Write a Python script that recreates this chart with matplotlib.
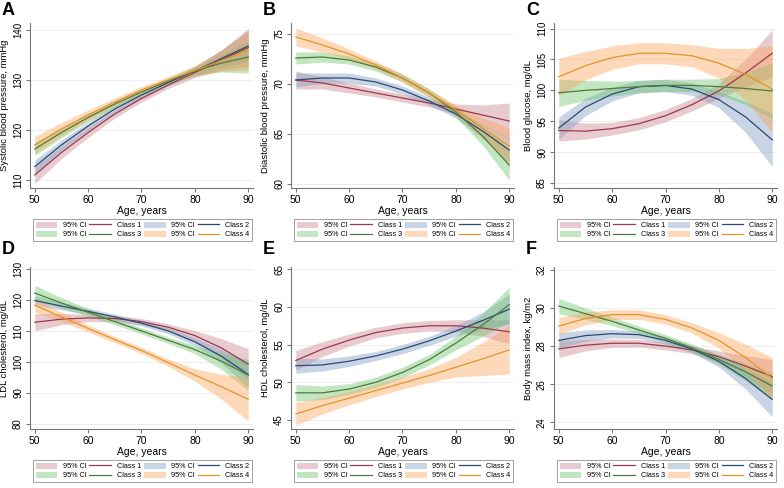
import matplotlib
matplotlib.use("Agg")
import matplotlib.pyplot as plt
import numpy as np
from matplotlib.patches import Patch
from matplotlib.lines import Line2D

ages = [50, 55, 60, 65, 70, 75, 80, 85, 90]

# Panel A: systolic blood pressure
sbp_c1 = [111.0, 115.5, 119.5, 123.2, 126.3, 129.0, 131.5, 134.0, 136.5]
sbp_c2 = [112.7, 117.0, 120.8, 124.2, 127.0, 129.5, 131.8, 134.3, 136.8]
sbp_c3 = [116.2, 119.5, 122.5, 125.2, 127.6, 129.8, 131.8, 133.4, 134.6]
sbp_c4 = [117.0, 120.2, 123.0, 125.6, 128.0, 130.0, 131.9, 133.9, 136.0]
sbp_ci1 = [1.7, 1.2, 1.0, 0.8, 0.7, 0.7, 1.0, 2.0, 3.8]
sbp_ci2 = [1.3, 1.0, 0.8, 0.7, 0.6, 0.6, 0.9, 1.7, 3.0]
sbp_ci3 = [1.3, 1.0, 0.8, 0.7, 0.6, 0.6, 0.9, 1.8, 3.2]
sbp_ci4 = [1.7, 1.3, 1.0, 0.8, 0.7, 0.7, 1.0, 2.1, 4.0]

# Panel B: diastolic blood pressure
dbp_c1 = [70.4, 70.1, 69.6, 69.1, 68.6, 68.1, 67.5, 66.9, 66.3]
dbp_c2 = [70.4, 70.6, 70.6, 70.2, 69.4, 68.3, 67.0, 65.3, 63.4]
dbp_c3 = [72.6, 72.7, 72.4, 71.7, 70.6, 69.1, 67.2, 64.8, 61.9]
dbp_c4 = [74.7, 73.9, 73.0, 71.9, 70.6, 69.1, 67.4, 65.6, 63.8]
dbp_ci1 = [0.9, 0.6, 0.5, 0.4, 0.4, 0.4, 0.5, 1.0, 1.8]
dbp_ci2 = [0.7, 0.5, 0.5, 0.4, 0.4, 0.4, 0.4, 0.7, 1.2]
dbp_ci3 = [0.6, 0.5, 0.4, 0.4, 0.4, 0.4, 0.5, 0.9, 1.5]
dbp_ci4 = [0.9, 0.7, 0.5, 0.4, 0.4, 0.4, 0.5, 1.0, 1.8]

# Panel C: blood glucose
glu_c1 = [93.5, 93.4, 93.8, 94.6, 95.9, 97.7, 99.9, 102.8, 106.0]
glu_c2 = [93.9, 97.3, 99.4, 100.6, 100.8, 100.2, 98.5, 95.7, 92.0]
glu_c3 = [99.6, 100.0, 100.3, 100.6, 100.8, 100.8, 100.6, 100.3, 99.9]
glu_c4 = [102.2, 104.0, 105.3, 106.0, 106.0, 105.6, 104.4, 102.6, 100.2]
glu_ci1 = [1.7, 1.3, 1.0, 1.0, 1.0, 1.0, 1.2, 2.2, 3.8]
glu_ci2 = [1.8, 1.4, 1.1, 1.0, 1.0, 1.0, 1.3, 2.5, 4.3]
glu_ci3 = [2.2, 1.6, 1.2, 1.0, 1.0, 1.0, 1.3, 2.6, 4.5]
glu_ci4 = [3.0, 2.3, 1.9, 1.7, 1.7, 1.8, 2.4, 4.2, 7.0]

# Panel D: LDL cholesterol
ldl_c1 = [112.8, 113.8, 114.2, 114.0, 113.0, 111.2, 108.5, 104.5, 99.3]
ldl_c2 = [119.8, 118.0, 116.3, 114.5, 112.5, 110.0, 106.5, 101.8, 96.0]
ldl_c3 = [122.2, 119.0, 116.0, 113.0, 110.0, 107.0, 104.0, 100.2, 95.8]
ldl_c4 = [118.3, 114.5, 110.8, 107.2, 103.7, 99.8, 95.8, 92.0, 88.0]
ldl_ci1 = [2.8, 1.8, 1.2, 1.0, 1.0, 1.1, 1.6, 3.0, 5.0]
ldl_ci2 = [1.5, 1.2, 1.0, 0.9, 0.9, 0.9, 1.2, 2.2, 4.0]
ldl_ci3 = [2.5, 1.7, 1.2, 1.0, 1.0, 1.0, 1.3, 2.6, 5.0]
ldl_ci4 = [2.2, 1.5, 1.1, 1.0, 1.0, 1.2, 2.0, 4.0, 7.0]

# Panel E: HDL cholesterol
hdl_c1 = [52.9, 54.4, 55.6, 56.6, 57.2, 57.5, 57.5, 57.2, 56.7]
hdl_c2 = [52.2, 52.3, 52.8, 53.5, 54.4, 55.5, 56.8, 58.2, 59.7]
hdl_c3 = [48.6, 48.6, 49.1, 50.0, 51.3, 53.0, 55.2, 57.6, 60.3]
hdl_c4 = [45.8, 46.9, 47.9, 48.9, 49.9, 50.9, 52.0, 53.1, 54.3]
hdl_ci1 = [1.3, 1.0, 0.8, 0.7, 0.7, 0.7, 0.8, 1.1, 1.6]
hdl_ci2 = [1.0, 0.8, 0.7, 0.6, 0.6, 0.6, 0.7, 1.1, 2.0]
hdl_ci3 = [1.1, 0.9, 0.7, 0.7, 0.7, 0.7, 0.9, 1.5, 2.3]
hdl_ci4 = [1.5, 1.1, 0.9, 0.8, 0.8, 0.9, 1.3, 2.2, 3.2]

# Panel F: body mass index
bmi_c1 = [27.85, 28.05, 28.15, 28.15, 28.0, 27.8, 27.45, 26.95, 26.4]
bmi_c2 = [28.3, 28.55, 28.65, 28.6, 28.3, 27.85, 27.2, 26.3, 25.2]
bmi_c3 = [30.1, 29.7, 29.3, 28.85, 28.4, 27.9, 27.3, 26.65, 25.9]
bmi_c4 = [29.05, 29.45, 29.65, 29.65, 29.4, 28.95, 28.3, 27.4, 26.3]
bmi_ci1 = [0.45, 0.3, 0.22, 0.2, 0.2, 0.2, 0.3, 0.55, 0.9]
bmi_ci2 = [0.4, 0.3, 0.22, 0.2, 0.2, 0.2, 0.3, 0.55, 0.9]
bmi_ci3 = [0.4, 0.3, 0.22, 0.2, 0.2, 0.2, 0.25, 0.45, 0.7]
bmi_ci4 = [0.45, 0.33, 0.26, 0.25, 0.25, 0.27, 0.4, 0.7, 1.1]

class_labels = ["Class 1", "Class 2", "Class 3", "Class 4"]
line_colors = ["#9b3a4a", "#2b4a73", "#52793c", "#e0962a"]
fill_colors = ["#c98592", "#7f9dc0", "#6cc46a", "#fba45a"]

panels = [
    ("A", "Systolic blood pressure, mmHg", [110, 120, 130, 140], (108.4, 141.4),
     [sbp_c1, sbp_c2, sbp_c3, sbp_c4], [sbp_ci1, sbp_ci2, sbp_ci3, sbp_ci4]),
    ("B", "Diastolic blood pressure, mmHg", [60, 65, 70, 75], (59.6, 76.1),
     [dbp_c1, dbp_c2, dbp_c3, dbp_c4], [dbp_ci1, dbp_ci2, dbp_ci3, dbp_ci4]),
    ("C", "Blood glucose, mg/dL", [85, 90, 95, 100, 105, 110], (84.2, 110.9),
     [glu_c1, glu_c2, glu_c3, glu_c4], [glu_ci1, glu_ci2, glu_ci3, glu_ci4]),
    ("D", "LDL cholesterol, mg/dL", [80, 90, 100, 110, 120, 130], (78.4, 130.6),
     [ldl_c1, ldl_c2, ldl_c3, ldl_c4], [ldl_ci1, ldl_ci2, ldl_ci3, ldl_ci4]),
    ("E", "HDL cholesterol, mg/dL", [45, 50, 55, 60, 65], (43.8, 65.3),
     [hdl_c1, hdl_c2, hdl_c3, hdl_c4], [hdl_ci1, hdl_ci2, hdl_ci3, hdl_ci4]),
    ("F", "Body mass index, kg/m2", [24, 26, 28, 30, 32], (23.65, 32.15),
     [bmi_c1, bmi_c2, bmi_c3, bmi_c4], [bmi_ci1, bmi_ci2, bmi_ci3, bmi_ci4]),
]

W, H = 784, 488
fig = plt.figure(figsize=(W / 100, H / 100), dpi=100)
plt.rcParams['font.family'] = ['Liberation Sans', 'DejaVu Sans']

col_left = [30, 291, 554]
ax_w = 223
row_top = [23, 267]
ax_h = [165, 162]
leg_top = [216, 457]
leg_h = 25
letter_top = [2, 241]

for i, (letter, ylabel, yticks, ylim, means, cis) in enumerate(panels):
    r, c = divmod(i, 3)
    x0 = col_left[c]
    y0 = row_top[r]
    ax = fig.add_axes([x0 / W, 1 - (y0 + ax_h[r]) / H, ax_w / W, ax_h[r] / H])
    x = np.array(ages)
    for k in range(4):
        m = np.array(means[k])
        h = np.array(cis[k])
        ax.fill_between(x, m - h, m + h, color=fill_colors[k], alpha=0.42, lw=0)
    for k in range(4):
        ax.plot(x, means[k], color=line_colors[k], lw=0.9)
    ax.set_xlim(49.1, 90.9)
    ax.set_ylim(*ylim)
    ax.set_xticks([50, 60, 70, 80, 90])
    ax.set_yticks(yticks)
    ax.tick_params(axis='y', labelrotation=90, labelsize=7, length=3, color='#777777', pad=2)
    ax.tick_params(axis='x', labelsize=7.5, length=3, color='#777777', pad=2)
    for lab in ax.get_yticklabels():
        lab.set_va('center')
    ax.grid(axis='y', color='#eeeeee', lw=0.7)
    ax.set_axisbelow(True)
    for s in ['top', 'right']:
        ax.spines[s].set_visible(False)
    for s in ['left', 'bottom']:
        ax.spines[s].set_color('#777777')
        ax.spines[s].set_linewidth(0.8)
    ax.set_xlabel("Age, years", fontsize=7.5, labelpad=1)
    ax.set_ylabel(ylabel, fontsize=6.8, labelpad=3)
    fig.text((x0 - 28) / W, 1 - letter_top[r] / H, letter, fontsize=13,
             fontweight='bold', va='top', ha='left')

    handles = [
        Patch(facecolor=fill_colors[0], alpha=0.42, edgecolor='none'),
        Patch(facecolor=fill_colors[2], alpha=0.42, edgecolor='none'),
        Line2D([], [], color=line_colors[0], lw=0.9),
        Line2D([], [], color=line_colors[2], lw=0.9),
        Patch(facecolor=fill_colors[1], alpha=0.42, edgecolor='none'),
        Patch(facecolor=fill_colors[3], alpha=0.42, edgecolor='none'),
        Line2D([], [], color=line_colors[1], lw=0.9),
        Line2D([], [], color=line_colors[3], lw=0.9),
    ]
    labels = ["95% CI", "95% CI", class_labels[0], class_labels[2],
              "95% CI", "95% CI", class_labels[1], class_labels[3]]
    lx0 = x0 + 3
    lw = 219
    leg = ax.legend(handles, labels, ncol=4, mode='expand', fontsize=5.2,
                    loc='lower left',
                    bbox_to_anchor=(lx0 / W, 1 - (leg_top[r] + leg_h) / H, lw / W, leg_h / H),
                    bbox_transform=fig.transFigure, frameon=True, fancybox=False,
                    handlelength=3.0, handleheight=0.9, handletextpad=0.8,
                    columnspacing=0.6, labelspacing=0.25, borderpad=0.35, borderaxespad=0)
    leg.get_frame().set_edgecolor('#888888')
    leg.get_frame().set_linewidth(0.7)

fig.savefig("out.png", dpi=100)
